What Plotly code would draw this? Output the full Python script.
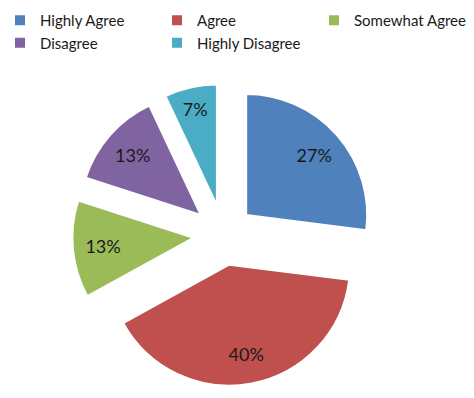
import plotly.graph_objects as go

labels = ["Highly Agree", "Agree", "Somewhat Agree", "Disagree", "Highly Disagree"]
values = [27, 40, 13, 13, 7]
colors = ["#4F81BD", "#C0504D", "#9BBB59", "#8064A2", "#4BACC6"]

W, H = 474, 398
cx, cy, box = 223.5, 235, 302.5
domain = dict(x=[(cx - box / 2) / W, (cx + box / 2) / W],
              y=[1 - (cy + box / 2) / H, 1 - (cy - box / 2) / H])
pull = [0.25] * len(values)

fig = go.Figure()
# slices
fig.add_trace(go.Pie(
    labels=labels,
    values=values,
    sort=False,
    direction="clockwise",
    rotation=0,
    pull=pull,
    marker=dict(colors=colors, line=dict(color="white", width=2)),
    textinfo="none",
    hoverinfo="label+percent",
    domain=domain,
))
# percentage labels (transparent ring so labels sit toward the outer part of each slice)
fig.add_trace(go.Pie(
    labels=labels,
    values=values,
    sort=False,
    direction="clockwise",
    rotation=0,
    pull=pull,
    hole=0.5,
    marker=dict(colors=["rgba(0,0,0,0)"] * len(values), line=dict(width=0)),
    textinfo="percent",
    texttemplate="%{percent:.0%}",
    textposition="inside",
    insidetextorientation="horizontal",
    textfont=dict(family="Lato", size=18, color="#1a1a1a"),
    hoverinfo="skip",
    showlegend=False,
    domain=domain,
))

fig.update_layout(
    width=W, height=H,
    margin=dict(l=0, r=0, t=0, b=0),
    paper_bgcolor="white",
    font=dict(family="Lato", color="#1a1a1a"),
    showlegend=True,
    legend=dict(
        orientation="h",
        x=0, y=0.99, xanchor="left", yanchor="top",
        entrywidth=112,
        font=dict(family="Lato", size=15, color="#1a1a1a"),
        itemwidth=30,
        bgcolor="rgba(0,0,0,0)",
    ),
)

fig.write_html("out.html", config={"displayModeBar": False},
               post_script="document.body.style.margin='0';")
